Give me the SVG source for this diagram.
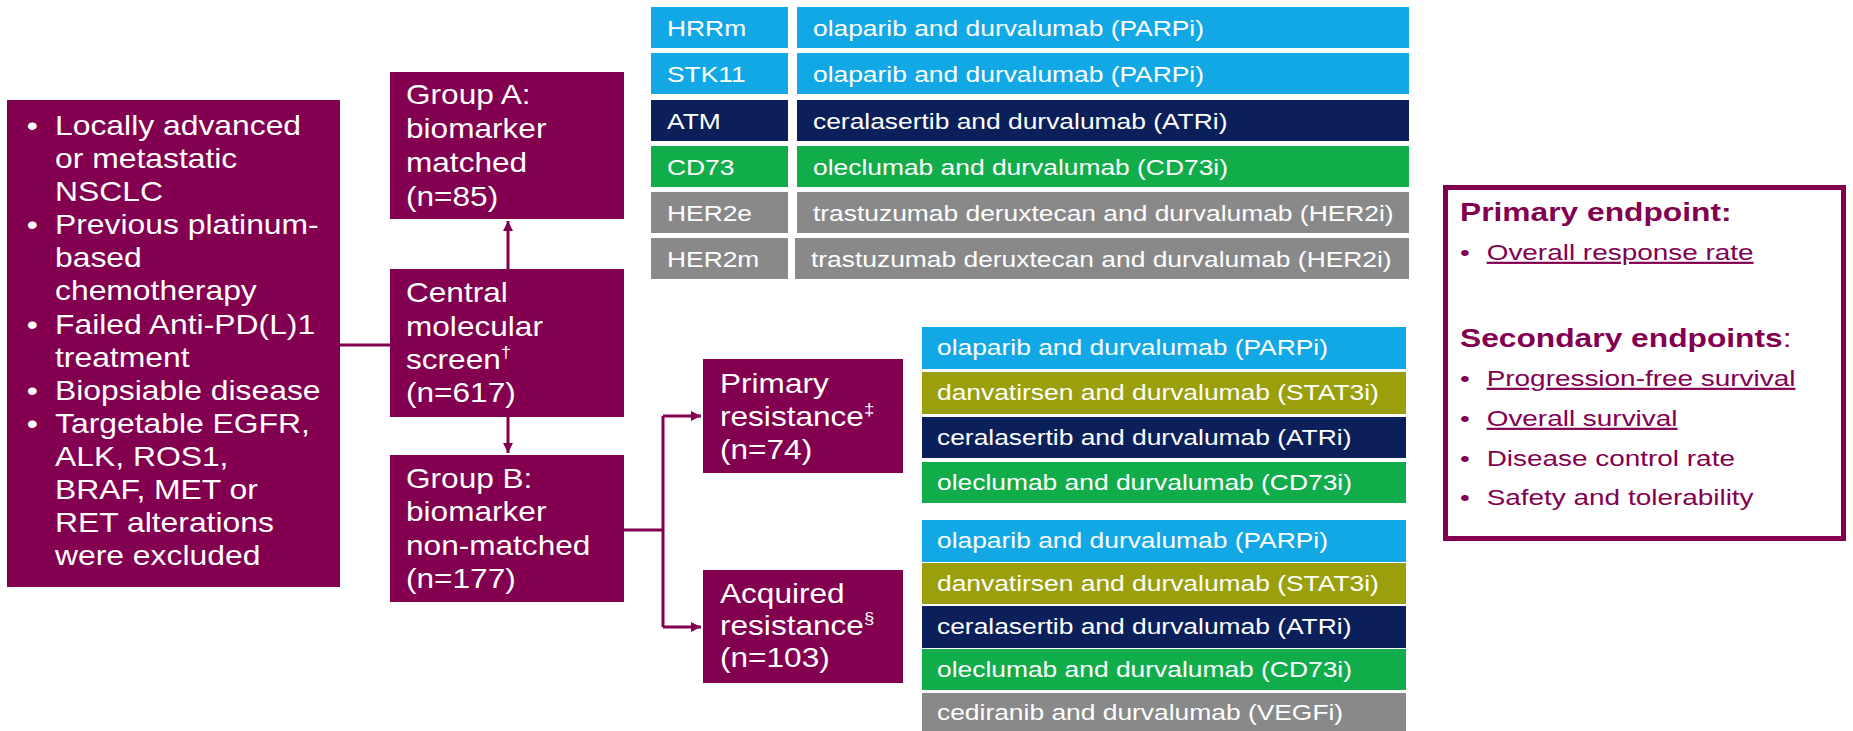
<svg xmlns="http://www.w3.org/2000/svg" width="1853" height="731" viewBox="0 0 1853 731">
<style>
.pbox{fill:#830051}
.pt{font-family:"Liberation Sans",Arial,sans-serif;font-size:27px;fill:#ffffff}
.tt{font-family:"Liberation Sans",Arial,sans-serif;font-size:22px;fill:#ffffff}
.et{font-family:"Liberation Sans",Arial,sans-serif;font-size:22px;fill:#830051}
.eh{font-weight:bold;font-size:25px}
.u{text-decoration:underline}
.blue{fill:#12A8E6}
.navy{fill:#0B1F5B}
.green{fill:#12AD4B}
.gray{fill:#898989}
.olive{fill:#9B9F0C}
.conn{stroke:#830051;stroke-width:3;fill:none}
</style>
<defs>
<marker id="ah" markerUnits="userSpaceOnUse" markerWidth="11" markerHeight="11" refX="10" refY="5" orient="auto">
<path d="M0,0 L10,5 L0,10 z" fill="#830051"/>
</marker>
</defs>
<rect width="1853" height="731" fill="#ffffff"/>

<g id="connectors">
<path class="conn" d="M340,345 H390"/>
<path class="conn" d="M508,269 V221" marker-end="url(#ah)"/>
<path class="conn" d="M508,417 V453" marker-end="url(#ah)"/>
<path class="conn" d="M624,530 H663"/>
<path class="conn" d="M663,416 V627"/>
<path class="conn" d="M663,416 H701" marker-end="url(#ah)"/>
<path class="conn" d="M663,627 H701" marker-end="url(#ah)"/>
</g>

<g id="eligibility">
<rect class="pbox" x="7" y="100" width="333" height="487"/>
<text class="pt" transform="translate(55,135) scale(1.18,1)">
<tspan x="-24" y="0">•</tspan><tspan x="0" y="0">Locally advanced</tspan>
<tspan x="0" y="33.1">or metastatic</tspan>
<tspan x="0" y="66.2">NSCLC</tspan>
<tspan x="-24" y="99.3">•</tspan><tspan x="0" y="99.3">Previous platinum-</tspan>
<tspan x="0" y="132.4">based</tspan>
<tspan x="0" y="165.5">chemotherapy</tspan>
<tspan x="-24" y="198.6">•</tspan><tspan x="0" y="198.6">Failed Anti-PD(L)1</tspan>
<tspan x="0" y="231.7">treatment</tspan>
<tspan x="-24" y="264.8">•</tspan><tspan x="0" y="264.8">Biopsiable disease</tspan>
<tspan x="-24" y="297.9">•</tspan><tspan x="0" y="297.9">Targetable EGFR,</tspan>
<tspan x="0" y="331">ALK, ROS1,</tspan>
<tspan x="0" y="364.1">BRAF, MET or</tspan>
<tspan x="0" y="397.2">RET alterations</tspan>
<tspan x="0" y="430.3">were excluded</tspan>
</text>
</g>

<g id="groupA">
<rect class="pbox" x="390" y="72" width="234" height="147"/>
<text class="pt" transform="translate(406,104) scale(1.17,1)">
<tspan x="0" y="0">Group A:</tspan>
<tspan x="0" y="34">biomarker</tspan>
<tspan x="0" y="68">matched</tspan>
<tspan x="0" y="102">(n=85)</tspan>
</text>
</g>

<g id="central">
<rect class="pbox" x="390" y="269" width="234" height="148"/>
<text class="pt" transform="translate(406,302) scale(1.17,1)">
<tspan x="0" y="0">Central</tspan>
<tspan x="0" y="34">molecular</tspan>
<tspan x="0" y="67">screen<tspan font-size="16" dy="-11">†</tspan></tspan>
<tspan x="0" y="100">(n=617)</tspan>
</text>
</g>

<g id="groupB">
<rect class="pbox" x="390" y="455" width="234" height="147"/>
<text class="pt" transform="translate(406,488) scale(1.17,1)">
<tspan x="0" y="0">Group B:</tspan>
<tspan x="0" y="33.5">biomarker</tspan>
<tspan x="0" y="67">non-matched</tspan>
<tspan x="0" y="100.5">(n=177)</tspan>
</text>
</g>

<g id="primary">
<rect class="pbox" x="703" y="359" width="200" height="114"/>
<text class="pt" transform="translate(720,393) scale(1.17,1)">
<tspan x="0" y="0">Primary</tspan>
<tspan x="0" y="33">resistance<tspan font-size="16" dy="-11">‡</tspan></tspan>
<tspan x="0" y="66">(n=74)</tspan>
</text>
</g>

<g id="acquired">
<rect class="pbox" x="703" y="570" width="200" height="113"/>
<text class="pt" transform="translate(720,603) scale(1.17,1)">
<tspan x="0" y="0">Acquired</tspan>
<tspan x="0" y="32">resistance<tspan font-size="16" dy="-11">§</tspan></tspan>
<tspan x="0" y="64">(n=103)</tspan>
</text>
</g>

<g id="groupA-table">
<rect class="blue" x="651" y="7" width="137" height="41"/>
<rect class="blue" x="797" y="7" width="612" height="41"/>
<rect class="blue" x="651" y="53" width="137" height="41"/>
<rect class="blue" x="797" y="53" width="612" height="41"/>
<rect class="navy" x="651" y="100" width="137" height="41"/>
<rect class="navy" x="797" y="100" width="612" height="41"/>
<rect class="green" x="651" y="146" width="137" height="41"/>
<rect class="green" x="797" y="146" width="612" height="41"/>
<rect class="gray" x="651" y="192" width="137" height="41"/>
<rect class="gray" x="797" y="192" width="612" height="41"/>
<rect class="gray" x="651" y="238" width="137" height="41"/>
<rect class="gray" x="795" y="238" width="614" height="41"/>
<text class="tt" transform="translate(667,36) scale(1.2,1)">HRRm</text>
<text class="tt" transform="translate(813,36) scale(1.2,1)">olaparib and durvalumab (PARPi)</text>
<text class="tt" transform="translate(667,82) scale(1.2,1)">STK11</text>
<text class="tt" transform="translate(813,82) scale(1.2,1)">olaparib and durvalumab (PARPi)</text>
<text class="tt" transform="translate(667,129) scale(1.2,1)">ATM</text>
<text class="tt" transform="translate(813,129) scale(1.2,1)">ceralasertib and durvalumab (ATRi)</text>
<text class="tt" transform="translate(667,175) scale(1.2,1)">CD73</text>
<text class="tt" transform="translate(813,175) scale(1.2,1)">oleclumab and durvalumab (CD73i)</text>
<text class="tt" transform="translate(667,221) scale(1.2,1)">HER2e</text>
<text class="tt" transform="translate(813,221) scale(1.2,1)">trastuzumab deruxtecan and durvalumab (HER2i)</text>
<text class="tt" transform="translate(667,267) scale(1.2,1)">HER2m</text>
<text class="tt" transform="translate(811,267) scale(1.2,1)">trastuzumab deruxtecan and durvalumab (HER2i)</text>
</g>

<g id="primary-table">
<rect class="blue" x="922" y="327" width="484" height="42"/>
<rect class="olive" x="922" y="372" width="484" height="42"/>
<rect class="navy" x="922" y="417" width="484" height="41"/>
<rect class="green" x="922" y="462" width="484" height="41"/>
<text class="tt" transform="translate(937,355) scale(1.2,1)">olaparib and durvalumab (PARPi)</text>
<text class="tt" transform="translate(937,400) scale(1.2,1)">danvatirsen and durvalumab (STAT3i)</text>
<text class="tt" transform="translate(937,445) scale(1.2,1)">ceralasertib and durvalumab (ATRi)</text>
<text class="tt" transform="translate(937,490) scale(1.2,1)">oleclumab and durvalumab (CD73i)</text>
</g>

<g id="acquired-table">
<rect class="blue" x="922" y="520" width="484" height="42"/>
<rect class="olive" x="922" y="563" width="484" height="41"/>
<rect class="navy" x="922" y="606" width="484" height="42"/>
<rect class="green" x="922" y="649" width="484" height="41"/>
<rect class="gray" x="922" y="693" width="484" height="42"/>
<text class="tt" transform="translate(937,548) scale(1.2,1)">olaparib and durvalumab (PARPi)</text>
<text class="tt" transform="translate(937,591) scale(1.2,1)">danvatirsen and durvalumab (STAT3i)</text>
<text class="tt" transform="translate(937,634) scale(1.2,1)">ceralasertib and durvalumab (ATRi)</text>
<text class="tt" transform="translate(937,677) scale(1.2,1)">oleclumab and durvalumab (CD73i)</text>
<text class="tt" transform="translate(937,720) scale(1.2,1)">cediranib and durvalumab (VEGFi)</text>
</g>

<g id="endpoints">
<rect x="1445.5" y="187.5" width="398" height="351" fill="#ffffff" stroke="#830051" stroke-width="5"/>
<text class="et" transform="translate(1460,221) scale(1.27,1)">
<tspan class="eh" x="0" y="0">Primary endpoint:</tspan>
<tspan x="0" y="39">•</tspan><tspan class="u" x="21" y="39">Overall response rate</tspan>
<tspan class="eh" x="0" y="126">Secondary endpoints</tspan><tspan font-size="25">:</tspan>
<tspan x="0" y="165">•</tspan><tspan class="u" x="21" y="165">Progression-free survival</tspan>
<tspan x="0" y="205">•</tspan><tspan class="u" x="21" y="205">Overall survival</tspan>
<tspan x="0" y="245">•</tspan><tspan x="21" y="245">Disease control rate</tspan>
<tspan x="0" y="284">•</tspan><tspan x="21" y="284">Safety and tolerability</tspan>
</text>
</g>
</svg>
